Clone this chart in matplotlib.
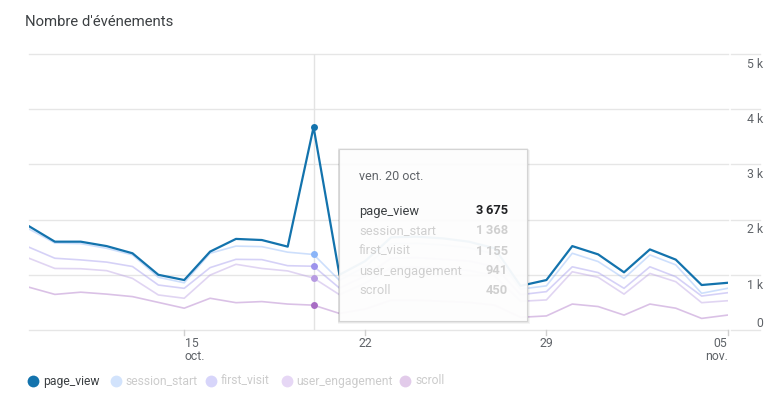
import matplotlib
matplotlib.use("Agg")
import matplotlib.pyplot as plt
import matplotlib.dates as mdates
from matplotlib.patches import Rectangle, FancyBboxPatch
from matplotlib.lines import Line2D
import pandas as pd
import numpy as np

plt.rcParams['font.family'] = ['Roboto', 'DejaVu Sans']

# ---- data ----
dates = pd.date_range('2023-10-09', '2023-11-05', freq='D')
page_view = [1880, 1600, 1600, 1520, 1390, 1000, 905, 1420, 1650, 1630, 1510, 3675,
             1000, 1250, 1680, 1690, 1660, 1600, 1480, 800,
             905, 1520, 1370, 1045, 1460, 1275, 815, 855]
session_start = [1830, 1575, 1565, 1480, 1360, 955, 855, 1390, 1520, 1510, 1410, 1368,
                 900, 1150, 1560, 1570, 1540, 1490, 1380, 740,
                 800, 1390, 1240, 935, 1360, 1180, 665, 755]
first_visit = [1500, 1300, 1270, 1230, 1150, 815, 755, 1130, 1280, 1275, 1165, 1155,
               760, 980, 1300, 1310, 1280, 1250, 1150, 640,
               695, 1145, 1040, 755, 1145, 965, 615, 675]
user_engagement = [1300, 1115, 1110, 1075, 935, 635, 575, 995, 1190, 1115, 1070, 941,
                   640, 850, 1130, 1140, 1110, 1080, 980, 520,
                   545, 1055, 955, 650, 1025, 875, 495, 530]
scroll = [775, 645, 685, 650, 605, 500, 395, 575, 495, 515, 470, 450,
          300, 380, 540, 540, 520, 500, 450, 230,
          255, 470, 425, 270, 470, 395, 210, 270]

series_names = ['page_view', 'session_start', 'first_visit', 'user_engagement', 'scroll']
series_values = [page_view, session_start, first_visit, user_engagement, scroll]
base_colors = ['#1373ad', '#8ab4f8', '#9d93ec', '#b79be2', '#a86dc4']
legend_colors = ['#1373ad', '#d2e3fc', '#d7d5fa', '#e6d7f5', '#e2cbea']

y_ticks = [0, 1000, 2000, 3000, 4000, 5000]
y_tick_labels = ['0', '1 k', '2 k', '3 k', '4 k', '5 k']
x_ticks = pd.to_datetime(['2023-10-15', '2023-10-22', '2023-10-29', '2023-11-05'])
x_tick_labels = ['15\noct.', '22', '29', '05\nnov.']
hover_date = pd.Timestamp('2023-10-20')
hover_title = 'ven. 20 oct.'
title = "Nombre d'événements"

# ---- figure ----
W, H = 779, 407
fig = plt.figure(figsize=(W / 100, H / 100), dpi=100)

def fx(x):
    return x / W

def fy(y):
    return 1 - y / H

ax_left, ax_right, ax_top, ax_bottom = 29, 727.5, 54, 330
ax = fig.add_axes([fx(ax_left), fy(ax_bottom), fx(ax_right - ax_left), (ax_bottom - ax_top) / H])
ax.set_xlim(dates[0], dates[-1])
ax.set_ylim(0, 5000)
for s in ax.spines.values():
    s.set_visible(False)
ax.set_yticks([])
ax.set_xticks([])

grid_c = '#e6e6e6'
for v in y_ticks:
    ax.axhline(v, color=grid_c, lw=1, zorder=0, clip_on=False)

# right segments and labels
trans_y = ax.get_yaxis_transform()
for v, lab in zip(y_ticks, y_tick_labels):
    ax.plot([1.0055, 1.047], [v, v], transform=trans_y, color=grid_c, lw=1, clip_on=False)
    if v == 0:
        ax.text(1.0505, v, lab, transform=trans_y, ha='right', va='bottom', fontsize=8.8,
                color='#5f6368')
    else:
        ax.text(1.0505, v - 70, lab, transform=trans_y, ha='right', va='top', fontsize=8.8,
                color='#5f6368')

# x ticks
trans_x = ax.get_xaxis_transform()
n = len(x_ticks)
for i, (d, lab) in enumerate(zip(x_ticks, x_tick_labels)):
    ax.plot([d, d], [0, -0.018], transform=trans_x, color='#d0d0d0', lw=1, clip_on=False)
    ha = 'left' if i == 0 else ('right' if i == n - 1 else 'center')
    off = {'left': 0.3, 'center': 0.08, 'right': 0}[ha]
    ax.text(d + pd.Timedelta(days=off * 0.1), -0.025, lab, transform=trans_x, ha=ha, va='top',
            fontsize=8.8, color='#5f6368', linespacing=1.05)

# hover line
ax.axvline(hover_date, color='#e3e3e3', lw=1, zorder=1)

# series lines
for name, vals, col in reversed(list(zip(series_names, series_values, base_colors))):
    if name == 'page_view':
        ax.plot(dates, vals, color=col, lw=1.6, zorder=5, solid_joinstyle='round')
    else:
        ax.plot(dates, vals, color=col, lw=1.2, alpha=0.42, zorder=3, solid_joinstyle='round')

hi = list(dates).index(hover_date)
for name, vals, col in zip(series_names, series_values, base_colors):
    ax.plot([dates[hi]], [vals[hi]], 'o', ms=5, color=col, mec='none', zorder=6)

# title
fig.text(fx(25), fy(22), title, fontsize=10.7, color='#3c4043', va='center', ha='left')

# legend
leg_circle_x = [33, 116, 211, 287, 405]
leg_text_x = [43, 125, 221, 296, 415]
leg_y = 381
for name, cx, tx, col, i in zip(series_names, leg_circle_x, leg_text_x, legend_colors, range(5)):
    fig.add_artist(Line2D([fx(cx)], [fy(leg_y)], marker='o', ms=8.5, color=col, mec='none',
                          transform=fig.transFigure))
    fig.text(fx(tx), fy(leg_y), name, fontsize=8.7, va='center', ha='left',
             color='#3c4043' if i == 0 else '#cccccc')

# tooltip
bx0, by0, bx1, by1 = 339, 149, 527, 321
for k, a in enumerate([0.05, 0.05, 0.04]):
    fig.add_artist(Rectangle((fx(bx0 - 1 + 0), fy(by1 + 1 + k)), fx(bx1 - bx0 + 2 + k),
                             (by1 - by0 + 2) / H, transform=fig.transFigure,
                             facecolor='black', edgecolor='none', alpha=a, zorder=9))
fig.add_artist(Rectangle((fx(bx0), fy(by1)), fx(bx1 - bx0), (by1 - by0) / H,
                         transform=fig.transFigure, facecolor='white', alpha=0.95,
                         edgecolor='none', zorder=10))
fig.add_artist(Rectangle((fx(bx0), fy(by1)), fx(bx1 - bx0), (by1 - by0) / H,
                         transform=fig.transFigure, facecolor='none',
                         edgecolor='#d4d4d4', lw=0.8, zorder=11))
fig.text(fx(359), fy(177), hover_title, fontsize=9, color='#5f6368', va='center', ha='left',
         zorder=12)

def fmt(v):
    s = f"{v:,}".replace(',', '\u2009')
    return s

row_y = [211, 231, 251, 271, 291]
for i, (name, vals, ry) in enumerate(zip(series_names, series_values, row_y)):
    c = '#3c4043' if i == 0 else '#cfcfcf'
    cv = '#202124' if i == 0 else '#cfcfcf'
    fig.text(fx(359), fy(ry), name, fontsize=9.3, color=c, va='center', ha='left', zorder=12)
    fig.text(fx(508), fy(ry), fmt(vals[hi]), fontsize=9.3, color=cv, va='center', ha='right',
             fontweight='bold', zorder=12)

fig.savefig('out.png', dpi=100)
